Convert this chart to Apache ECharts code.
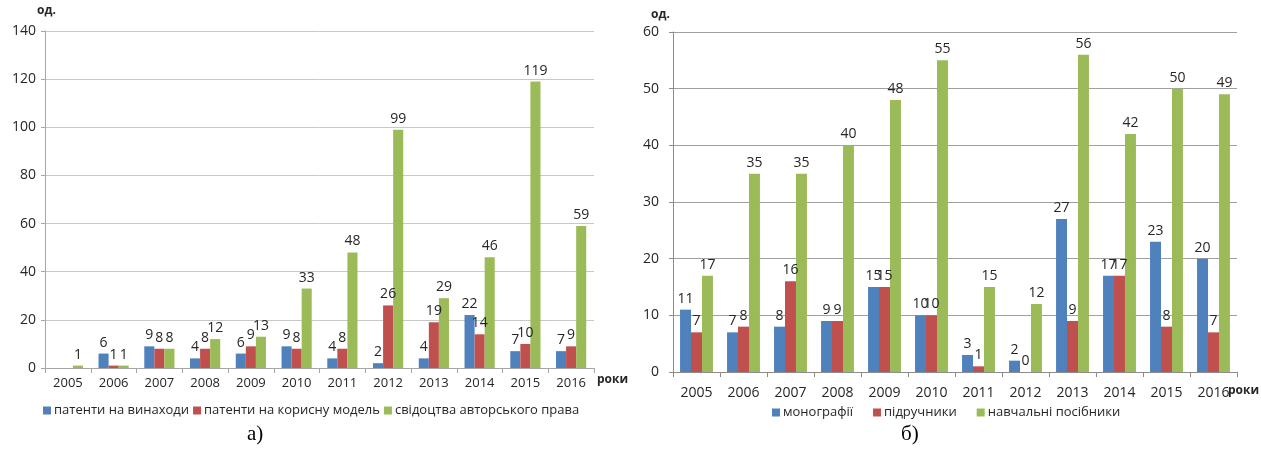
<!DOCTYPE html>
<html>
<head>
<meta charset="utf-8">
<script src="https://cdn.jsdelivr.net/npm/echarts@6/dist/echarts.min.js"></script>
<style>
html,body{margin:0;padding:0;background:#fff;}
#c{width:1261px;height:452px;}
</style>
</head>
<body>
<div id="c"></div>
<script>
// ---- data ----
const years = ['2005','2006','2007','2008','2009','2010','2011','2012','2013','2014','2015','2016'];

// chart a)
const aNames = ['патенти на винаходи','патенти на корисну модель','свідоцтва авторського права'];
const aInventions = [null, 6, 9, 4, 6, 9, 4, 2, 4, 22, 7, 7];
const aUtility    = [null, 1, 8, 8, 9, 8, 8, 26, 19, 14, 10, 9];
const aCopyright  = [1, 1, 8, 12, 13, 33, 48, 99, 29, 46, 119, 59];
const aTicks = [0, 20, 40, 60, 80, 100, 120, 140];

// chart б)
const bNames = ['монографії','підручники','навчальні посібники'];
const bMonographs = [11, 7, 8, 9, 15, 10, 3, 2, 27, 17, 23, 20];
const bTextbooks  = [7, 8, 16, 9, 15, 10, 1, 0, 9, 17, 8, 7];
const bManuals    = [17, 35, 35, 40, 48, 55, 15, 12, 56, 42, 50, 49];
const bTicks = [0, 10, 20, 30, 40, 50, 60];

const unitLabel = 'од.';
const xName = 'роки';
const captions = ['а)', 'б)'];

// ---- styles ----
const colors = ['#4f81bd', '#c0504d', '#9bbb59'];
const FONT = '"Open Sans", "Noto Sans", sans-serif';
const txt = '#262626';

const chart = echarts.init(document.getElementById('c'), null, {renderer: 'canvas'});

function barSeries(name, data, idx, color) {
  return {
    name: name,
    type: 'bar',
    xAxisIndex: idx,
    yAxisIndex: idx,
    data: data,
    barGap: '0%',
    barCategoryGap: idx === 0 ? '34%' : '30%',
    itemStyle: {color: color},
    label: {
      show: true,
      position: 'top',
      distance: 4,
      color: txt,
      fontFamily: FONT,
      fontSize: 14
    },
    animation: false
  };
}

const option = {
  backgroundColor: '#ffffff',
  animation: false,
  color: colors,
  textStyle: {fontFamily: FONT},
  grid: [
    {left: 45, top: 31, width: 549, height: 337},
    {left: 673, top: 32, width: 564, height: 340}
  ],
  legend: [
    {
      data: aNames,
      left: 38, top: 399,
      icon: 'rect', itemWidth: 8, itemHeight: 8, itemGap: 4,
      textStyle: {fontFamily: FONT, fontSize: 13, color: txt, padding: [0,0,0,-2]}
    },
    {
      data: bNames,
      left: 767, top: 401,
      icon: 'rect', itemWidth: 8, itemHeight: 8, itemGap: 20,
      textStyle: {fontFamily: FONT, fontSize: 13, color: txt, padding: [0,0,0,-2]}
    }
  ],
  xAxis: [
    {
      type: 'category', gridIndex: 0, data: years,
      axisLine: {lineStyle: {color: '#a6a6a6'}},
      axisTick: {show: true, length: 5, lineStyle: {color: '#a6a6a6'}},
      axisLabel: {color: txt, fontFamily: FONT, fontSize: 13, margin: 9, interval: 0}
    },
    {
      type: 'category', gridIndex: 1, data: years,
      axisLine: {lineStyle: {color: '#8c8c8c'}},
      axisTick: {show: true, length: 5, lineStyle: {color: '#8c8c8c'}},
      axisLabel: {color: txt, fontFamily: FONT, fontSize: 14, margin: 14, interval: 0}
    }
  ],
  yAxis: [
    {
      type: 'value', gridIndex: 0, min: aTicks[0], max: aTicks[aTicks.length-1], interval: 20,
      axisLine: {show: true, lineStyle: {color: '#a6a6a6'}},
      axisTick: {show: true, length: 4, lineStyle: {color: '#a6a6a6'}},
      splitLine: {lineStyle: {color: '#c8c8c8', width: 1}},
      axisLabel: {color: txt, fontFamily: FONT, fontSize: 14, margin: 9}
    },
    {
      type: 'value', gridIndex: 1, min: bTicks[0], max: bTicks[bTicks.length-1], interval: 10,
      axisLine: {show: true, lineStyle: {color: '#8c8c8c'}},
      axisTick: {show: true, length: 4, lineStyle: {color: '#8c8c8c'}},
      splitLine: {lineStyle: {color: '#a0a0a0', width: 1.2}},
      axisLabel: {color: txt, fontFamily: FONT, fontSize: 14, margin: 14}
    }
  ],
  series: [
    barSeries(aNames[0], aInventions, 0, colors[0]),
    barSeries(aNames[1], aUtility, 0, colors[1]),
    barSeries(aNames[2], aCopyright, 0, colors[2]),
    barSeries(bNames[0], bMonographs, 1, colors[0]),
    barSeries(bNames[1], bTextbooks, 1, colors[1]),
    barSeries(bNames[2], bManuals, 1, colors[2])
  ],
  graphic: [
    {type: 'text', left: 37, top: 5, style: {text: unitLabel, font: 'bold 12px ' + FONT, fill: txt}},
    {type: 'text', left: 651, top: 9, style: {text: unitLabel, font: 'bold 12px ' + FONT, fill: txt}},
    {type: 'text', left: 597, top: 374, style: {text: xName, font: 'bold 12px ' + FONT, fill: txt}},
    {type: 'text', left: 1228, top: 385, style: {text: xName, font: 'bold 12px ' + FONT, fill: txt}},
    {type: 'text', left: 247, top: 424, style: {text: captions[0], font: '21px "Liberation Serif", serif', fill: '#000'}},
    {type: 'text', left: 901, top: 424, style: {text: captions[1], font: '21px "Liberation Serif", serif', fill: '#000'}}
  ]
};
chart.setOption(option);
</script>
</body>
</html>
